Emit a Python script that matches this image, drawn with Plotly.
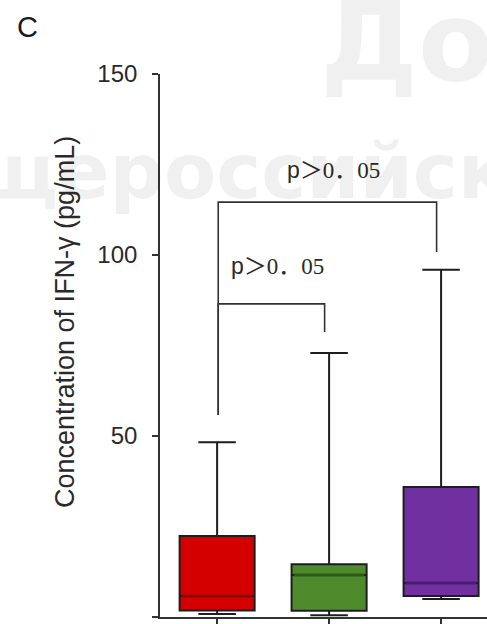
import plotly.graph_objects as go

# ---- data ----
groups = ["Group 1", "Group 2", "Group 3"]
q1_vals = [1.8, 1.7, 5.8]
median_vals = [5.8, 11.6, 9.4]
q3_vals = [22.4, 14.6, 35.9]
min_vals = [0.8, 0.5, 5.0]
max_vals = [48.3, 72.9, 95.9]
fill_colors = ["#d40000", "#4f8a2d", "#7030a0"]
median_colors = ["#8e0000", "#2c5a17", "#4a1c72"]

# significance brackets
brk_left = [0, 0]
brk_right = [1, 2]
brk_height = [86.5, 114.6]
brk_left_end = [55.8, 55.8]
brk_right_end = [78.7, 100.8]
brk_label_p = ["p", "p"]
brk_label_rest = ["＞0．05", "＞0．05"]
brk_label_y = [97.0, 123.5]

y_ticks = [0, 50, 100, 150]
y_title = "Concentration of IFN-γ (pg/mL)"
panel_label = "C"
watermark_1 = "До"
watermark_2 = "щероссийск"

W, H = 487, 624
ML, MR, MT, MB = 160, 0, 74, 7
PW, PH = W - ML - MR, H - MT - MB


def px_x(px):
    return (px - ML) / PW


def px_y(py):
    return (H - MB - py) / PH


BOX_W = 0.67
LINE = "#1e1e1e"

fig = go.Figure()

for i, g in enumerate(groups):
    fig.add_trace(go.Box(
        x=[i], q1=[q1_vals[i]], median=[median_vals[i]], q3=[q3_vals[i]],
        lowerfence=[min_vals[i]], upperfence=[max_vals[i]],
        width=BOX_W, whiskerwidth=0.5,
        fillcolor=fill_colors[i], line=dict(color=LINE, width=2),
        boxpoints=False, name=g, showlegend=False, hoverinfo="skip",
    ))
    fig.add_trace(go.Scatter(
        x=[i - BOX_W / 2 + 0.02, i + BOX_W / 2 - 0.02],
        y=[median_vals[i], median_vals[i]],
        mode="lines", line=dict(color=median_colors[i], width=3),
        showlegend=False, hoverinfo="skip",
    ))

for k in range(len(brk_left)):
    xl = brk_left[k] + 0.01
    xr = brk_right[k] - 0.04
    fig.add_trace(go.Scatter(
        x=[xl, xl, xr, xr],
        y=[brk_left_end[k], brk_height[k], brk_height[k], brk_right_end[k]],
        mode="lines", line=dict(color="#333333", width=1.6),
        showlegend=False, hoverinfo="skip",
    ))
    fig.add_annotation(
        x=(brk_left[k] + brk_right[k]) / 2 + 0.04, y=brk_label_y[k],
        xref="x", yref="y", showarrow=False,
        text=brk_label_p[k] + "<span style='font-family:Liberation Serif, Noto Sans CJK SC'>"
        + brk_label_rest[k] + "</span>",
        font=dict(family="Liberation Sans, Arial", size=23, color="#2a2a2a"),
        xanchor="center", yanchor="middle",
    )

# faint watermark
wm = "rgba(0,0,0,0.06)"
fig.add_annotation(x=px_x(318), y=px_y(42), xref="paper", yref="paper",
                   text="<b>" + watermark_1 + "</b>", showarrow=False,
                   xanchor="left", yanchor="middle",
                   font=dict(family="DejaVu Sans", size=110, color=wm))
fig.add_annotation(x=px_x(-28), y=px_y(171), xref="paper", yref="paper",
                   text="<b>" + watermark_2 + "</b>", showarrow=False,
                   xanchor="left", yanchor="middle",
                   font=dict(family="DejaVu Sans", size=76, color=wm))

fig.add_annotation(x=px_x(65), y=px_y(322), xref="paper", yref="paper",
                   text=y_title, showarrow=False, textangle=-90,
                   xanchor="center", yanchor="middle",
                   font=dict(family="Liberation Sans, Arial", size=27, color="#2a2a2a"))
fig.add_annotation(x=px_x(27), y=px_y(27), xref="paper", yref="paper",
                   text=panel_label, showarrow=False, xanchor="center", yanchor="middle",
                   font=dict(family="Liberation Sans, Arial", size=29, color="#1a1a1a"))

fig.update_layout(
    width=W, height=H,
    margin=dict(l=ML, r=MR, t=MT, b=MB),
    paper_bgcolor="white", plot_bgcolor="white",
    showlegend=False,
    xaxis=dict(range=[-0.51, 2.41], tickvals=[0, 1, 2], showticklabels=False,
               ticks="outside", ticklen=8, tickwidth=1.6, tickcolor="#333333",
               showline=True, linecolor="#333333", linewidth=1.6,
               showgrid=False, zeroline=False),
    yaxis=dict(range=[0, 150], tickvals=y_ticks, ticks="outside", ticklen=6,
               tickwidth=1.6, tickcolor="#333333", showline=True,
               linecolor="#333333", linewidth=1.6, showgrid=False, zeroline=False,
               ticklabelstandoff=10,
               tickfont=dict(family="Liberation Sans, Arial", size=24, color="#2a2a2a")),
)

fig.write_html("out.html", config={"displayModeBar": False},
               post_script="document.body.style.margin='0';document.body.style.overflow='hidden';")
